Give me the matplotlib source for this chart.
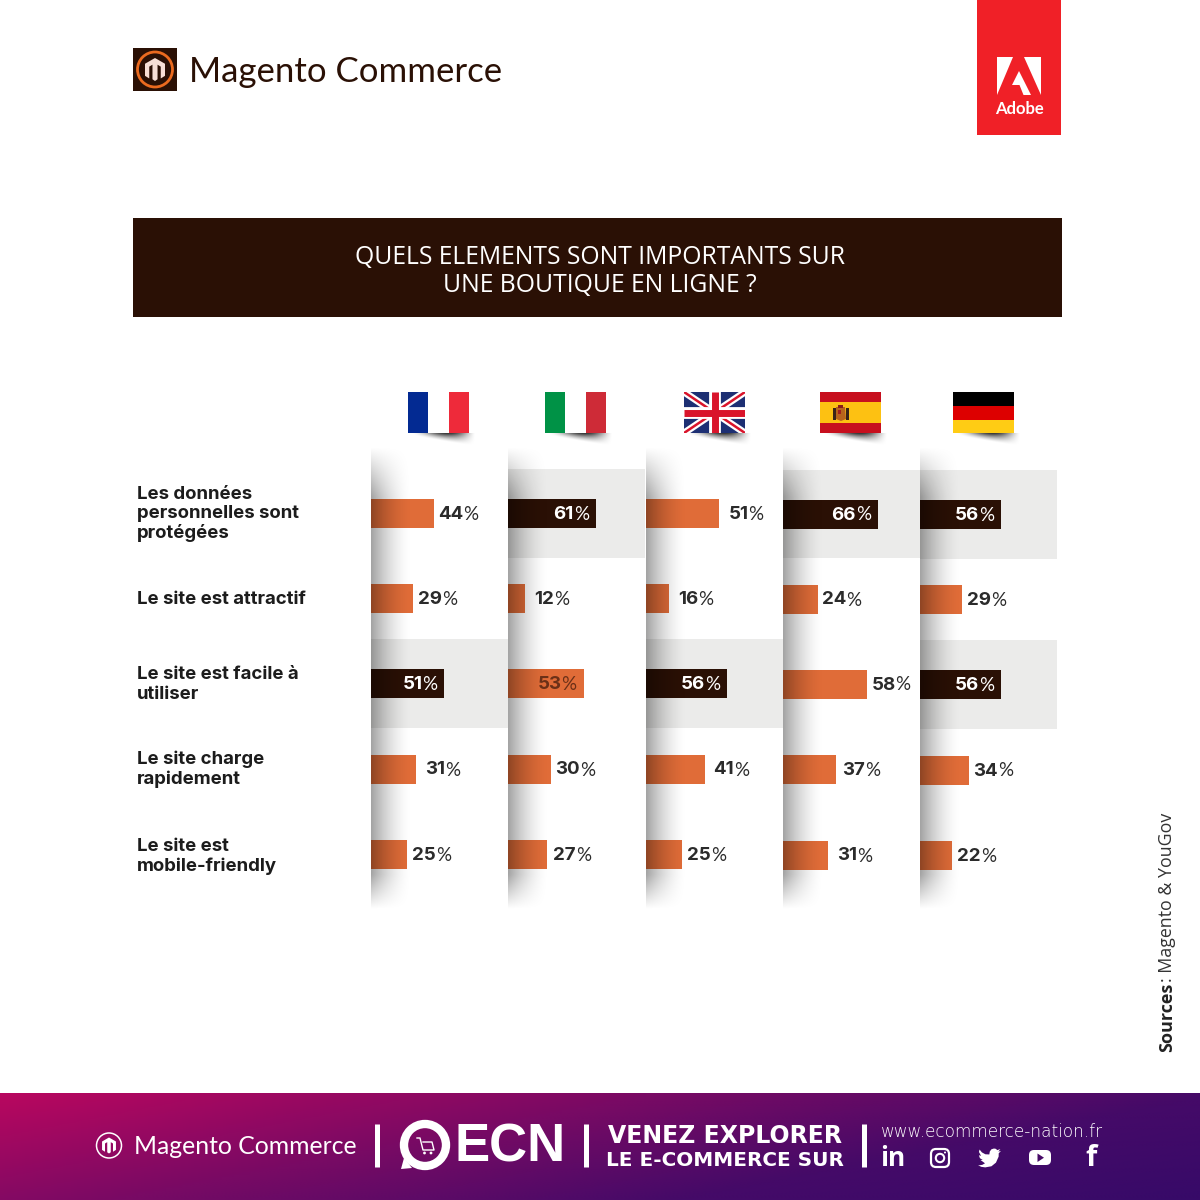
import numpy as np
import matplotlib
matplotlib.use('Agg')
import matplotlib.pyplot as plt
from matplotlib.patches import Rectangle, Circle, Polygon, FancyBboxPatch
from matplotlib.colors import LinearSegmentedColormap

# Survey results, one list per country, same order as row_labels
row_labels = ['Les données\npersonnelles sont\nprotégées', 'Le site est attractif',
              'Le site est facile à\nutiliser', 'Le site charge\nrapidement',
              'Le site est\nmobile-friendly']
france = [44, 29, 51, 31, 25]
italy = [61, 12, 53, 30, 27]
uk = [51, 16, 56, 41, 25]
spain = [66, 24, 58, 37, 31]
germany = [56, 29, 56, 34, 22]
# True where the cell is a country's top answer (dark bar on grey band)
france_top = [False, False, True, False, False]
italy_top = [True, False, False, False, False]
uk_top = [False, False, True, False, False]
spain_top = [True, False, False, False, False]
germany_top = [True, False, True, False, False]

title_lines = ['QUELS ELEMENTS SONT IMPORTANTS SUR', 'UNE BOUTIQUE EN LIGNE ?']

DARK = '#2a1005'
ORANGE = '#e06c38'
GREY = '#ebebea'
BOLD = 'Inter'
LIGHT = 'Lato'

col_x = [371, 508, 646, 783, 920]
col_w = 137
row_y = [513.5, 598.5, 683.5, 769, 854.5]
px_per_pct = 1.44

fig = plt.figure(figsize=(12, 12), dpi=100)
ax = fig.add_axes([0, 0, 1, 1])
ax.axis('off')


def magento_mark(cx, cy, r, fg):
    # hexagon with the two slots of the M
    pts = [(cx, cy - r), (cx + .87 * r, cy - .5 * r), (cx + .87 * r, cy + .55 * r),
           (cx + .5 * r, cy + .78 * r), (cx + .5 * r, cy - .25 * r), (cx + .22 * r, cy - .42 * r),
           (cx + .22 * r, cy + .85 * r), (cx, cy + r), (cx - .22 * r, cy + .85 * r),
           (cx - .22 * r, cy - .42 * r), (cx - .5 * r, cy - .25 * r), (cx - .5 * r, cy + .78 * r),
           (cx - .87 * r, cy + .55 * r), (cx - .87 * r, cy - .5 * r)]
    ax.add_patch(Polygon(pts, closed=True, fc=fg, ec='none', zorder=6))


# top logos
ax.add_patch(Rectangle((133, 48), 44, 43, fc=DARK, ec='none', zorder=5))
ax.add_patch(Circle((155, 69.5), 17.5, fc='none', ec='#ea6a1f', lw=2, zorder=6))
magento_mark(155, 69.5, 11.5, '#f6dfd6')
ax.text(189, 72, 'Magento Commerce', family=LIGHT, fontsize=25, color=DARK, va='center', ha='left')

ax.add_patch(Rectangle((977, 0), 84, 135, fc='#f02027', ec='none'))
ax.add_patch(Polygon([(997, 57), (1013, 57), (997, 95)], fc='white', ec='none', zorder=3))
ax.add_patch(Polygon([(1024, 57), (1041, 57), (1041, 95)], fc='white', ec='none', zorder=3))
ax.add_patch(Polygon([(1019, 71), (1031, 95), (1023.5, 95), (1019.5, 85), (1012, 85)], fc='white', ec='none', zorder=3))
ax.text(1019, 109.5, 'Adobe', family=LIGHT, weight='bold', fontsize=12, color='white', ha='center', va='center')

# title band
ax.add_patch(Rectangle((133, 218), 929, 99, fc=DARK, ec='none'))
ax.text(600, 257, title_lines[0], family='Open Sans', fontsize=17.8, color='white', ha='center', va='center')
ax.text(600, 286, title_lines[1], family='Open Sans', fontsize=17.8, color='white', ha='center', va='center')


def flag_shadow(x0):
    # wedge of shadow below a flag: grows and darkens to the right, blurred at the tip
    tx, ty = np.meshgrid(np.linspace(0, 1, 70), np.linspace(0, 1, 20))
    reach = .15 + .85 * tx
    alpha = np.clip(1 - ty / reach, 0, 1) ** 1.4 * np.sin(np.pi * tx ** 1.25) ** 1.5
    img = np.zeros((20, 70, 4))
    img[..., 3] = alpha * .8
    ax.imshow(img, extent=(x0 + 2, x0 + 68, 447, 433), zorder=1, aspect='auto', interpolation='bilinear')


def vstripes(x0, colors):
    w = 61 / len(colors)
    for i, c in enumerate(colors):
        ax.add_patch(Rectangle((x0 + i * w, 392), w, 41, fc=c, ec='none', zorder=3))


def hstripes(x0, colors, heights):
    y = 392
    for c, h in zip(colors, heights):
        ax.add_patch(Rectangle((x0, y), 61, h, fc=c, ec='none', zorder=3))
        y += h


# flags
for fx in [408, 545, 684, 820, 953]:
    flag_shadow(fx)
vstripes(408, ['#032a92', 'white', '#ee2a3a'])
vstripes(545, ['#009246', 'white', '#ce2b37'])

clip = Rectangle((684, 392), 61, 41, transform=ax.transData)
ax.add_patch(Rectangle((684, 392), 61, 41, fc='#1d2f73', ec='none', zorder=3))
for (a, b), c, lw in [(((684, 392), (745, 433)), 'white', 5), (((684, 433), (745, 392)), 'white', 5),
                      (((684, 392), (745, 433)), '#d9142b', 1.8), (((684, 433), (745, 392)), '#d9142b', 1.8),
                      (((714.5, 392), (714.5, 433)), 'white', 8.5), (((684, 412.5), (745, 412.5)), 'white', 8.5),
                      (((714.5, 392), (714.5, 433)), '#d9142b', 5), (((684, 412.5), (745, 412.5)), '#d9142b', 5)]:
    ln, = ax.plot([a[0], b[0]], [a[1], b[1]], color=c, lw=lw, zorder=3, solid_capstyle='butt')
    ln.set_clip_path(clip)

hstripes(820, ['#c70f1e', '#fdc112', '#c70f1e'], [10, 21, 10])
# coat of arms, reduced to its main blocks
ax.add_patch(Polygon([(836, 407), (845, 407), (846, 419), (841, 421), (836, 419)], fc='#b8641c', ec='none', zorder=4))
ax.add_patch(Rectangle((833, 408), 2.5, 12, fc='#3a2418', ec='none', zorder=4))
ax.add_patch(Rectangle((846, 408), 2.5, 12, fc='#3a2418', ec='none', zorder=4))
ax.add_patch(Rectangle((838, 405), 5, 3, fc='#8a1a1a', ec='none', zorder=4))
ax.add_patch(Rectangle((838, 410), 2.5, 4, fc='#a3201c', ec='none', zorder=4))
hstripes(953, ['#000000', '#dd0000', '#ffcc14'], [14, 14, 13])

# grey bands, bars
values = [france, italy, uk, spain, germany]
tops = [france_top, italy_top, uk_top, spain_top, germany_top]
col_dy = [0, 0, 0, .5, 1]

for i, (vals, top) in enumerate(zip(values, tops)):
    x0 = col_x[i]
    for j, v in enumerate(vals):
        yc = row_y[j] + col_dy[i]
        if top[j]:
            ax.add_patch(Rectangle((x0, yc - 44.5), col_w, 88.5, fc=GREY, ec='none', zorder=1))
        w = v * px_per_pct
        ax.barh(yc, w, height=29, left=x0, color=DARK if top[j] else ORANGE, zorder=2)

# soft shadow on the left edge of every column, fading at both ends
fade_x = (1 - np.linspace(0, 1, 42)) ** 1.7
yy = np.linspace(446, 910, 232)
fade_y = np.clip((yy - 446) / 50, 0, 1) * np.clip((910 - yy) / 35, 0, 1)
shade = np.zeros((232, 42, 4))
shade[..., 3] = np.outer(fade_y, fade_x) * .36
for x0 in col_x:
    ax.imshow(shade, extent=(x0, x0 + 42, 910, 446), zorder=2.5, aspect='auto', interpolation='bilinear')

# value labels go above the shadow
for i, (vals, top) in enumerate(zip(values, tops)):
    x0 = col_x[i]
    for j, v in enumerate(vals):
        yc = row_y[j] + col_dy[i] + 1
        end = x0 + v * px_per_pct
        if top[j]:
            mid, col = end - 22, 'white'
        elif v == 53:
            # this label sits inside its orange bar
            mid, col = end - 23, '#6b3017'
        else:
            mid, col = end + 29, '#2b2b2b'
        ax.text(mid, yc, str(v), family=BOLD, weight='bold', fontsize=13.5, color=col, ha='right', va='center', zorder=4)
        ax.text(mid, yc, '%', family=LIGHT, fontsize=13.5, color=col, ha='left', va='center', zorder=4)

for label, y in zip(row_labels, [514, 600, 684.5, 769.5, 856.5]):
    ax.text(137, y, label, family=BOLD, weight='bold', fontsize=13.4, color='#1c1c1c', ha='left', va='center', linespacing=1.16)

# source note, reads bottom to top
ax.text(1167, 1052, 'Sources', family='Open Sans', weight='bold', fontsize=13, color='#222222', rotation=90, ha='center', va='bottom')
ax.text(1167, 982, ': Magento & YouGov', family='Open Sans', fontsize=12.8, color='#333333', rotation=90, ha='center', va='bottom')

# footer gradient
gx, gy = np.meshgrid(np.linspace(0, 1200, 300), np.linspace(0, 107, 40))
grad = (gx + 5 * gy) / (1200 + 5 * 107)
cmap = LinearSegmentedColormap.from_list('footer', [(0, '#b8075f'), (.37, '#7a0a64'), (.7, '#450a68'), (1, '#370a68')])
ax.imshow(grad, extent=(0, 1200, 1200, 1093), cmap=cmap, vmin=0, vmax=1, zorder=1, aspect='auto', interpolation='bilinear')

ax.add_patch(Circle((109, 1145.5), 12.5, fc='none', ec='white', lw=1.1, zorder=3))
magento_mark(109, 1145.5, 8, 'white')
ax.text(134, 1147, 'Magento Commerce', family=LIGHT, fontsize=17.8, color='white', ha='left', va='center', zorder=3)

for bx in [376.5, 585.5, 863.5]:
    ax.plot([bx, bx], [1124, 1167], color='white', lw=3.6, zorder=3, solid_capstyle='butt')

# ECN speech bubble with cart
ax.add_patch(Circle((425, 1145), 21, fc='none', ec='white', lw=6, zorder=3))
ax.add_patch(Polygon([(404, 1158), (412, 1168), (401, 1169)], fc='white', ec='none', zorder=3))
ax.plot([417, 420, 423, 434, 432, 423], [1138, 1138, 1150, 1150, 1142, 1142], color='white', lw=1, zorder=4)
ax.add_patch(Circle((424.5, 1153), 1.4, fc='white', ec='none', zorder=4))
ax.add_patch(Circle((431, 1153), 1.4, fc='white', ec='none', zorder=4))
ax.text(510, 1148, 'ECN', family='Liberation Sans', weight='bold', fontsize=38, color='white', ha='center', va='center', zorder=3)

ax.text(725, 1136, 'VENEZ EXPLORER', family='DejaVu Sans', weight='bold', fontsize=17, color='white', ha='center', va='center', zorder=3)
ax.text(725, 1161, 'LE E-COMMERCE SUR', family='DejaVu Sans', weight='bold', fontsize=14.4, color='white', ha='center', va='center', zorder=3)
ax.text(881, 1132, 'www.ecommerce-nation.fr', family='DejaVu Sans', weight='light', fontsize=12.2, color='white', ha='left', va='center', zorder=3)

# social icons
ax.text(893, 1158, 'in', family='Open Sans', weight='bold', fontsize=19, color='white', ha='center', va='center', zorder=3)
ax.add_patch(FancyBboxPatch((933, 1151), 14, 14, boxstyle='round,pad=2,rounding_size=5', fc='none', ec='white', lw=1.6, zorder=3))
ax.add_patch(Circle((940, 1158), 4.2, fc='none', ec='white', lw=1.5, zorder=3))
ax.add_patch(Circle((945, 1152.5), 1, fc='white', ec='none', zorder=3))
bird = np.array([(23.95, 4.57), (21.13, 5.35), (23.29, 2.62), (20.16, 3.81), (18.5, 2.4), (16.6, 2.1), (14, 2.9), (12.3, 5.2),
                 (11.78, 8.29), (7.69, 8.1), (4.07, 6.13), (1.64, 3.16), (0.97, 5.64), (3.16, 9.73), (0.93, 9.12),
                 (2, 12.2), (4.88, 14), (2.67, 14.09), (7.27, 17.5), (4.5, 19.1), (1.17, 19.6), (0, 19.54), (3.5, 21.2), (7.56, 21.75),
                 (14, 20.6), (18.7, 16.8), (21.5, 10.5), (21.56, 7.76), (21.55, 7.13)])
ax.add_patch(Polygon(bird * .96 + (978, 1146.5), fc='white', ec='none', zorder=3))
ax.add_patch(FancyBboxPatch((1031, 1152), 18, 11, boxstyle='round,pad=2,rounding_size=5', fc='white', ec='none', zorder=3))
ax.add_patch(Polygon([(1037.5, 1153.5), (1037.5, 1162), (1044, 1157.7)], fc='#470a67', ec='none', zorder=4))
ax.text(1091, 1158, 'f', family='Open Sans', weight='bold', fontsize=21, color='white', ha='center', va='center', zorder=3)

ax.set_xlim(0, 1200)
ax.set_ylim(1200, 0)
fig.savefig('out.png', dpi=100, facecolor='white')
